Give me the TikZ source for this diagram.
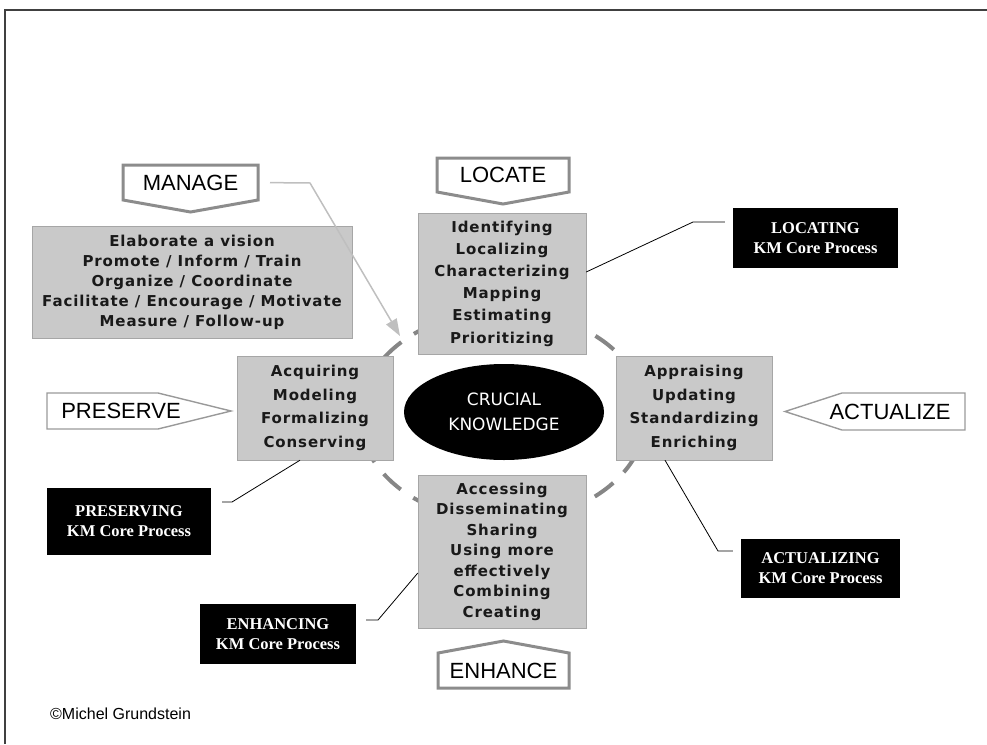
\documentclass[tikz,border=0pt]{standalone}
\usepackage{fontspec}
\setmainfont{Liberation Serif}
\setsansfont{Liberation Sans}
\newfontfamily\boxfont[LetterSpace=6]{DejaVu Sans}
\newfontfamily\ovalfont{DejaVu Sans}
\usetikzlibrary{positioning,arrows.meta,calc,shapes.geometric}
\tikzset{
graynode/.style={rectangle, draw=gray!70, fill=gray!42, inner sep=0pt, align=center, text=black!90,
                 font=\boxfont\bfseries\fontsize{15}{21}\selectfont},
blacknode/.style={rectangle, fill=black, inner sep=0pt, align=center, text=white,
                  font=\rmfamily\bfseries\fontsize{16.5}{20}\selectfont},
verbnode/.style={inner sep=0pt, font=\sffamily\fontsize{22}{22}\selectfont},
verbline/.style={draw=gray!90, line width=3pt, line join=miter},
thinverb/.style={draw=gray!80, line width=1.4pt, line join=miter},
ring/.style={draw=gray!95, line width=4pt, dash pattern=on 23pt off 15pt},
callout/.style={draw=black, line width=0.8pt},
mgarrow/.style={draw=gray!50, line width=1.5pt, -{Triangle[length=17pt,width=12pt]}}
}

\begin{document}
\begin{tikzpicture}[x=1pt, y=-1pt]
\useasboundingbox (0,0) rectangle (987,744);
\draw[black!75, line width=1.5pt] (5,744) |- (987,10);

%dashed ring behind the boxes
\coordinate (ringc) at (503,416);
\draw[ring] (ringc) ellipse [x radius=143pt, y radius=105pt];

%process boxes
\node[graynode, minimum width=320pt, minimum height=112pt, font=\boxfont\bfseries\fontsize{15}{20}\selectfont] (mgbox) at (192,282)
  {Elaborate a vision\\Promote / Inform / Train\\Organize / Coordinate\\Facilitate / Encourage / Motivate\\Measure / Follow-up};
\node[graynode, minimum width=168pt, minimum height=141pt, font=\boxfont\bfseries\fontsize{15}{22.2}\selectfont] (locbox) at (502,283.5)
  {Identifying\\Localizing\\Characterizing\\Mapping\\Estimating\\Prioritizing};
\node[graynode, minimum width=156pt, minimum height=104pt, font=\boxfont\bfseries\fontsize{15}{23.5}\selectfont] (presbox) at (315,408)
  {Acquiring\\Modeling\\Formalizing\\Conserving};
\node[graynode, minimum width=156pt, minimum height=104pt, font=\boxfont\bfseries\fontsize{15}{23.5}\selectfont] (actbox) at (694,408)
  {Appraising\\Updating\\Standardizing\\Enriching};
\node[graynode, minimum width=168pt, minimum height=153pt, font=\boxfont\bfseries\fontsize{15}{20.5}\selectfont] (enhbox) at (502,551.5)
  {Accessing\\Disseminating\\Sharing\\Using more\\effectively\\Combining\\Creating};

\node[ellipse, fill=black, text=white, minimum width=200pt, minimum height=96pt, inner sep=0pt, align=center,
      font=\ovalfont\fontsize{17}{25}\selectfont] (crucial) at (504,412) {CRUCIAL\\KNOWLEDGE};

%core process labels
\node[blacknode, minimum width=165pt, minimum height=60pt] (locating) at (815.5,238) {LOCATING\\KM Core Process};
\node[blacknode, minimum width=164pt, minimum height=67pt] (preserving) at (129,521.5) {PRESERVING\\KM Core Process};
\node[blacknode, minimum width=159pt, minimum height=59pt] (actualizing) at (820.5,568.5) {ACTUALIZING\\KM Core Process};
\node[blacknode, minimum width=156pt, minimum height=60pt] (enhancing) at (278,634) {ENHANCING\\KM Core Process};

\draw[callout, shorten >=8pt] (locbox.east |- 0,272) -- (693,222) -- (locating.west |- 0,222);
\draw[callout, shorten >=8pt] (665,0 |- actbox.south) -- (718,551) -- (actualizing.west |- 0,551);
\draw[callout, shorten >=10pt] (enhbox.west |- 0,573) -- (378,620) -- (enhancing.east |- 0,620);
\draw[callout, shorten >=11pt] (300,0 |- presbox.south) -- (232,502) -- (preserving.east |- 0,502);

%verb arrows
\draw[verbline] (123,165) -- (258,165) -- (258,200) -- (190.5,212) -- (123,200) -- cycle;
\node[verbnode] (manage) at (190.5,182.5) {MANAGE};
\draw[verbline] (437,158) -- (569,158) -- (569,192) -- (503,204) -- (437,192) -- cycle;
\node[verbnode] (locate) at (503,175) {LOCATE};
\draw[verbline] (438,688) -- (438,653) -- (503.5,641) -- (569,653) -- (569,688) -- cycle;
\node[verbnode] (enhance) at (503.5,671) {ENHANCE};
\draw[thinverb] (47,393) -- (158,393) -- (231,411) -- (158,429) -- (47,429) -- cycle;
\node[verbnode] (preserve) at (121,411) {PRESERVE};
\draw[thinverb] (965,393) -- (842,393) -- (785,411.5) -- (842,430) -- (965,430) -- cycle;
\node[verbnode] (actualize) at (890,411.5) {ACTUALIZE};

\coordinate (mgtip) at (400,336);
\draw[mgarrow, shorten <=12pt] (manage.east -| 258,0) -- (310,183) -- (mgtip);

\node[anchor=west, inner sep=0pt, font=\sffamily\fontsize{16}{16}\selectfont] (credit) at (50,714) {©Michel Grundstein};
\end{tikzpicture}
\end{document}
